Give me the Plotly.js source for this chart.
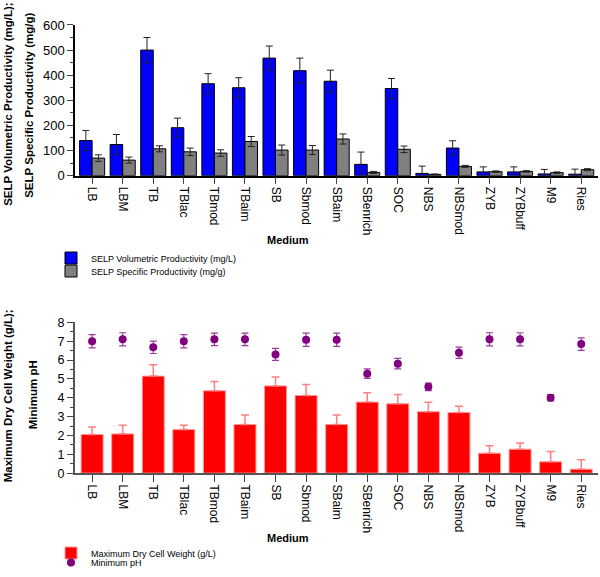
<!DOCTYPE html>
<html>
<head>
<meta charset="utf-8">
<script src="https://cdn.plot.ly/plotly-3.0.1.min.js"></script>
<style>
  body { margin: 0; background: #fff; }
  #chart { width: 600px; height: 577px; }
</style>
</head>
<body>
<div id="chart"></div>
<script>
var media = ["LB", "LBM", "TB", "TBlac", "TBmod", "TBaim", "SB", "Sbmod", "SBaim",
  "SBenrich", "SOC", "NBS", "NBSmod", "ZYB", "ZYBbuff", "M9", "Ries"];

// top panel: SELP productivity
var volProd = [140, 124, 500, 191, 366, 350, 468, 418, 376, 45, 347, 9, 110, 15, 15, 7, 6];
var volErr = [40, 40, 50, 38, 40, 40, 48, 50, 44, 49, 40, 29, 29, 20, 20, 18, 20];
var specProd = [70, 62, 107, 95, 90, 136, 102, 102, 146, 13, 105, 5, 37, 16, 17, 12, 24];
var specErr = [13, 12, 12, 15, 13, 20, 20, 18, 20, 4, 13, 2, 4, 3, 3, 3, 4];

// bottom panel: dry cell weight and pH
var dcw = [2.05, 2.08, 5.15, 2.31, 4.37, 2.58, 4.63, 4.12, 2.58, 3.77, 3.68, 3.26, 3.22, 1.06, 1.27, 0.6, 0.21];
var dcwErr = [0.4, 0.46, 0.6, 0.23, 0.49, 0.5, 0.47, 0.58, 0.5, 0.5, 0.5, 0.5, 0.33, 0.4, 0.33, 0.55, 0.5];
var minPH = [7.0, 7.1, 6.68, 7.0, 7.1, 7.1, 6.3, 7.08, 7.08, 5.28, 5.81, 4.58, 6.39, 7.1, 7.1, 4.0, 6.85];
var phErr = [0.35, 0.35, 0.33, 0.35, 0.33, 0.33, 0.32, 0.35, 0.35, 0.25, 0.28, 0.2, 0.3, 0.35, 0.35, 0.17, 0.33];
var zeros = dcw.map(function () { return 0; });

var font = "Liberation Sans, Arial, sans-serif";

// plot area is 547px tall (bottom margin 30 keeps the legends from pushing it)
var H = 547;
function py(px) { return (H - px) / H; }

var data = [
  {
    type: "bar", x: media, y: volProd, name: "SELP Volumetric Productivity (mg/L)",
    xaxis: "x", yaxis: "y", legend: "legend", showlegend: true,
    marker: { color: "#0000ff", line: { color: "#000", width: 1 } },
    error_y: { type: "data", array: volErr, color: "#222", thickness: 1, width: 3.5 }
  },
  {
    type: "bar", x: media, y: specProd, name: "SELP Specific Productivity (mg/g)",
    xaxis: "x", yaxis: "y", legend: "legend2", showlegend: true,
    marker: { color: "#808080", line: { color: "#000", width: 1 } },
    error_y: { type: "data", array: specErr, color: "#222", thickness: 1, width: 3.5 }
  },
  {
    type: "bar", x: media, y: dcw, name: "Maximum Dry Cell Weight (g/L)",
    xaxis: "x2", yaxis: "y2", legend: "legend3", width: 0.72, showlegend: true,
    marker: { color: "#ff0000", line: { color: "#ff9a9a", width: 1 } },
    error_y: { type: "data", symmetric: false, array: dcwErr, arrayminus: zeros,
      color: "#ff8080", thickness: 1.5, width: 4 }
  },
  {
    type: "scatter", mode: "markers", x: media, y: minPH, name: "Minimum pH",
    xaxis: "x2", yaxis: "y2", legend: "legend4", showlegend: true,
    marker: { color: "#800080", size: 8 },
    error_y: { type: "data", array: phErr, color: "#9b3b9b", thickness: 1.2, width: 3.5 }
  }
];

var xCommon = {
  type: "category", range: [-0.56, 16.55], domain: [0.125, 0.9967],
  showline: true, linewidth: 1.5, ticks: "outside", ticklen: 7, tickwidth: 1,
  tickangle: 90, tickfont: { size: 12, family: font, color: "#000" },
  showgrid: false, zeroline: false
};

function leg(yPx) {
  return { x: 0.085, y: py(yPx), yanchor: "middle", font: { size: 9 },
    bgcolor: "rgba(0,0,0,0)", visible: true };
}

function sideTitle(text, xPx, yPx) {
  return { text: "<b>" + text + "</b>", textangle: -90, showarrow: false,
    xref: "paper", yref: "paper", xanchor: "center", yanchor: "middle",
    x: xPx / 600, y: py(yPx), font: { size: 11.5 } };
}

var layout = {
  width: 600, height: 577,
  margin: { l: 0, r: 0, t: 0, b: 30 },
  paper_bgcolor: "#fff", plot_bgcolor: "#fff",
  font: { family: font, color: "#000" },
  showlegend: true,
  bargap: 0.18, bargroupgap: 0,
  xaxis: Object.assign({}, xCommon, { anchor: "y", linecolor: "#000" }),
  xaxis2: Object.assign({}, xCommon, { anchor: "y2", linecolor: "#555", linewidth: 2 }),
  yaxis: {
    domain: [py(176), py(25)], range: [0, 600], dtick: 100, anchor: "x",
    showline: true, linecolor: "#000", linewidth: 1.5, ticks: "outside", ticklen: 6,
    minor: { dtick: 50, ticks: "outside", ticklen: 3 },
    tickfont: { size: 13, family: font }, showgrid: false, zeroline: false
  },
  yaxis2: {
    domain: [py(474), py(323)], range: [0, 8], dtick: 1, anchor: "x2",
    showline: true, linecolor: "#555", linewidth: 2, ticks: "outside", ticklen: 6,
    minor: { dtick: 0.5, ticks: "outside", ticklen: 3 },
    tickfont: { size: 12.5, family: font }, showgrid: false, zeroline: false
  },
  legend: leg(258),
  legend2: leg(271),
  legend3: leg(553),
  legend4: leg(564),
  annotations: [
    sideTitle("SELP Volumetric Productivity (mg/L);", 8, 105),
    sideTitle("SELP Specific Productivity (mg/g)", 29, 106),
    sideTitle("Maximum Dry Cell Weight (g/L);", 8, 397),
    sideTitle("Minimum pH", 33, 396),
    { text: "<b>Medium</b>", showarrow: false, xref: "paper", yref: "paper",
      xanchor: "center", yanchor: "middle",
      x: 288 / 600, y: py(240), font: { size: 11 } },
    { text: "<b>Medium</b>", showarrow: false, xref: "paper", yref: "paper",
      xanchor: "center", yanchor: "middle",
      x: 288 / 600, y: py(539), font: { size: 11 } }
  ]
};

Plotly.newPlot("chart", data, layout, { displayModeBar: false });
</script>
</body>
</html>
